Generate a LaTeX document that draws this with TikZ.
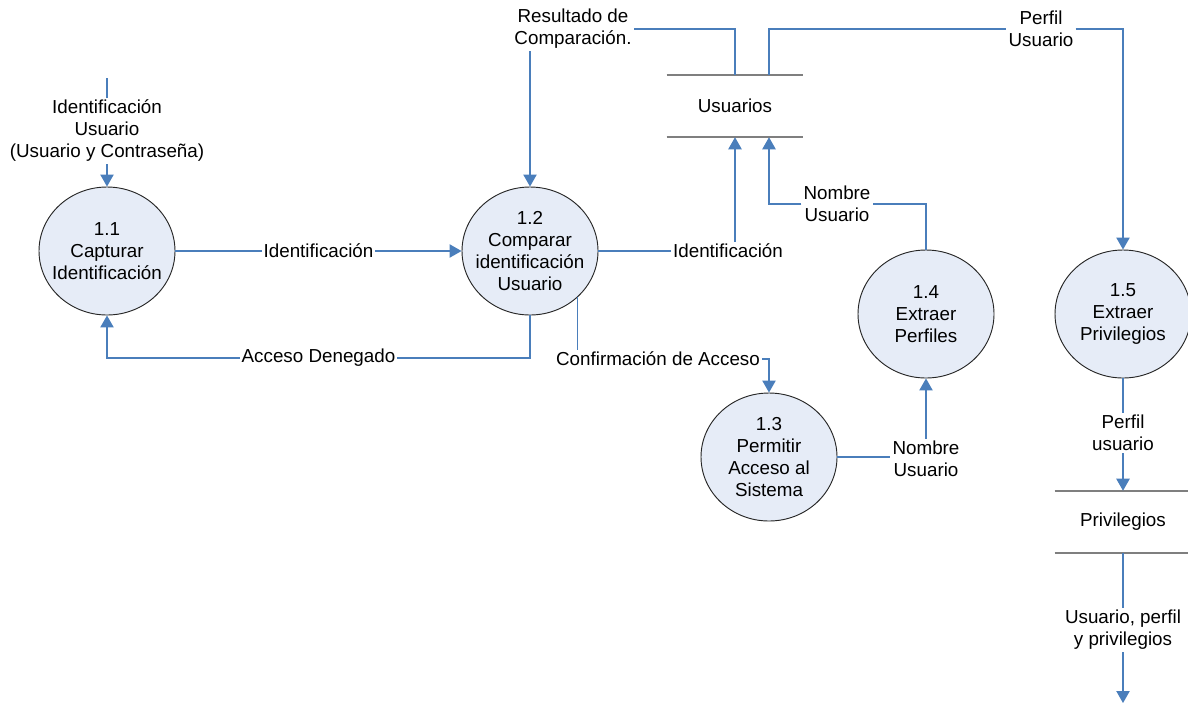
\documentclass[tikz,border=0pt]{standalone}
\usepackage{fontspec}
\setmainfont{Liberation Sans}
\usetikzlibrary{shapes.geometric,arrows.meta,calc}
\definecolor{flowblue}{HTML}{4A7EBB}
\definecolor{procfill}{HTML}{E6ECF7}
\definecolor{storegray}{HTML}{7F7F7F}
\begin{document}
\begin{tikzpicture}[x=0.75pt,y=-0.75pt,
  font=\fontsize{14.1pt}{16.5pt}\selectfont,
  txt/.style={align=center,inner sep=0pt},
  proc/.style={ellipse,draw=black!85,fill=procfill,line width=0.7pt,
    minimum width=102pt,minimum height=96pt,inner sep=0pt},
  store/.style={minimum width=102pt,minimum height=46.5pt,inner sep=0pt},
  storeline/.style={draw=storegray,line width=1.4pt},
  lbl/.style={align=center,inner sep=1.5pt,fill=white},
  flow/.style={draw=flowblue,line width=0.9pt},
  flowarrow/.style={flow,-{Triangle[length=9pt,width=10pt]}}]
\useasboundingbox (0,0) rectangle (1188,704);

% processes
\node[proc,label={[txt]center:{1.1\\Capturar\\Identificación}}] (c11) at (107,251) {};
\node[proc,label={[txt]center:{1.2\\Comparar\\identificación\\Usuario}}] (c12) at (530,251) {};
\node[proc,label={[txt]center:{1.3\\Permitir\\Acceso al\\Sistema}}] (c13) at (769,457) {};
\node[proc,label={[txt]center:{1.4\\Extraer\\Perfiles}}] (c14) at (926,314) {};
\node[proc,label={[txt]center:{1.5\\Extraer\\Privilegios}}] (c15) at (1123,314) {};

% data stores
\node[store] (usu) at (735,106) {Usuarios};
\draw[storeline] (usu.north west) -- (usu.north east) (usu.south west) -- (usu.south east);
\node[store] (priv) at (1123,522) {Privilegios};
\draw[storeline] (priv.north west) -- (priv.north east) (priv.south west) -- (priv.south east);
\coordinate (usuT1) at (usu.north);
\coordinate (usuT2) at ($(usu.north)+(34,0)$);
\coordinate (usuB1) at (usu.south);
\coordinate (usuB2) at ($(usu.south)+(34,0)$);

% flow labels
\node[lbl] (lin) at (107,131) {Identificación\\Usuario\\(Usuario y Contraseña)};
\node[lbl] (res) at (573,29) {Resultado de\\Comparación.};
\node[lbl] (pu) at (1041,29) {Perfil\\Usuario};
\node[lbl] (id2) at (728,251) {Identificación};
\node[lbl] (nu1) at (837,204) {Nombre\\Usuario};
\node[lbl] (conf) at (658,359) {Confirmación de Acceso};
\node[lbl] (nu2) at (926,459) {Nombre\\Usuario};
\node[lbl] (pu2) at (1123,433) {Perfil\\usuario};
\node[lbl] (upp) at (1123,630) {Usuario, perfil\\y privilegios};
\coordinate (in0) at (107,78);
\coordinate (out) at (1123,703);
\coordinate (c12c) at (c12.-44);

% flows
\draw[flow] (in0) -- (lin);
\draw[flowarrow] (lin) -- (c11);
\draw[flowarrow] (c11) -- node[lbl]{Identificación} (c12);
\draw[flowarrow] (c12.south) -- (c12.south |- 0,358) -| node[lbl,pos=0.25]{Acceso Denegado} (c11.south);
\draw[flow] (c12c) -- (c12c |- conf.north);
\draw[flowarrow] (conf.east) -| (c13.north);
\draw[flow] (c13.east) -- (c13.east -| nu2.west);
\draw[flowarrow] (nu2) -- (c14);
\draw[flow] (c14.north) |- (nu1.east);
\draw[flowarrow] (nu1.west) -| (usuB2);
\draw[flow] (c12) -- (id2);
\draw[flowarrow] (id2.north -| usuB1) -- (usuB1);
\draw[flow] (usuT1) |- (res.east);
\draw[flowarrow] (res.south -| c12.north) -- (c12.north);
\draw[flow] (usuT2) |- (pu.west);
\draw[flowarrow] (pu.east) -| (c15.north);
\draw[flow] (c15) -- (pu2);
\draw[flowarrow] (pu2) -- (priv.north);
\draw[flow] (priv.south) -- (upp);
\draw[flowarrow] (upp) -- (out);
\end{tikzpicture}
\end{document}
